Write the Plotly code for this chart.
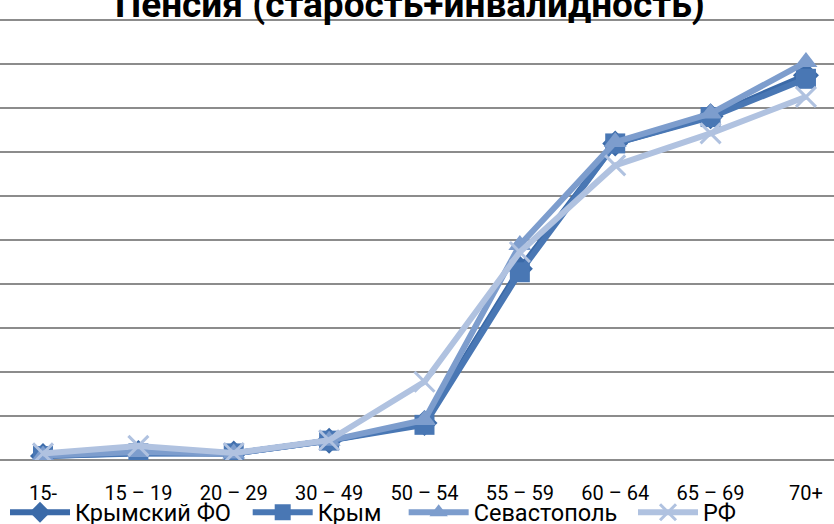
import plotly.graph_objects as go

categories = ["15-", "15 – 19", "20 – 29", "30 – 49", "50 – 54", "55 – 59", "60 – 64", "65 – 69", "70+"]
kfo = [0.9, 1.6, 1.5, 4.4, 8.4, 43.5, 72.0, 78.2, 87.5]
krym = [0.9, 1.5, 1.5, 4.4, 8.0, 42.7, 72.0, 78.0, 86.7]
sev = [1.0, 1.8, 1.5, 4.4, 9.1, 48.9, 72.3, 78.8, 90.5]
rf = [1.5, 3.2, 1.6, 4.5, 17.8, 47.3, 67.0, 74.3, 82.6]

names = ["Крымский ФО", "Крым", "Севастополь", "РФ"]
series = [kfo, krym, sev, rf]
colors = ["#3b6aa8", "#4977b4", "#7d9dcd", "#b0c2e0"]
symbols = ["diamond", "square", "triangle-up", "x-thin"]
sizes = [20, 20, 20, 20]
legend_ids = ["legend", "legend2", "legend3", "legend4"]
legend_x = [0.006, 0.297, 0.484, 0.759]

fig = go.Figure()
for n, s, c, sym, sz, lg in zip(names, series, colors, symbols, sizes, legend_ids):
    mk = dict(symbol=sym, size=sz, color=c)
    if sym == "x-thin":
        mk["line"] = dict(width=3, color=c)
    fig.add_trace(go.Scatter(
        x=categories, y=s, name=n, mode="lines+markers",
        line=dict(color=c, width=6), marker=mk, legend=lg,
    ))

font_main = "Roboto"
layout_legends = {}
for lg, lx in zip(legend_ids, legend_x):
    layout_legends[lg] = dict(
        x=lx, y=-0.119, xref="paper", yref="paper", xanchor="left", yanchor="middle",
        orientation="h", bgcolor="rgba(0,0,0,0)", borderwidth=0, itemwidth=60,
        font=dict(family=font_main, size=23.5, color="#000000"),
    )

fig.update_layout(
    width=834, height=524,
    margin=dict(l=0, r=0, t=19, b=64, pad=0, autoexpand=False),
    paper_bgcolor="#ffffff", plot_bgcolor="#ffffff",
    showlegend=True,
    **layout_legends,
    xaxis=dict(
        type="category", range=[-0.451, 8.294], showgrid=False,
        showline=False, zeroline=False, ticks="", automargin=False,
        ticklabelstandoff=19,
        tickfont=dict(family=font_main, size=20, color="#000000"),
    ),
    yaxis=dict(
        range=[0, 100.3], dtick=10, showticklabels=False,
        showgrid=True, gridcolor="#8c8c8c", gridwidth=2,
        zeroline=True, zerolinecolor="#8c8c8c", zerolinewidth=2,
        fixedrange=True, automargin=False,
    ),
    annotations=[dict(
        text="<b>Пенсия (старость+инвалидность)</b>",
        x=0.492, y=1.034, xref="paper", yref="paper",
        xanchor="center", yanchor="middle", showarrow=False,
        font=dict(family=font_main, size=37, color="#000000"),
    )],
)

fig.write_html(
    "out.html",
    config={"displayModeBar": False},
    post_script="document.body.style.margin='0';document.body.style.overflow='hidden';",
)
